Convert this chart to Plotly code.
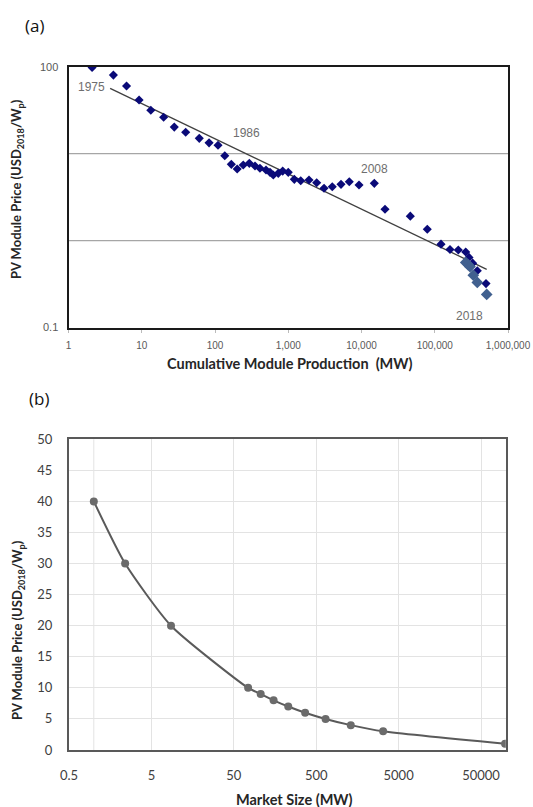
import math
import plotly.graph_objects as go

W, H = 533, 807

# ---------- Panel (a) data ----------
cum_mw = [2.1, 4.1, 6.2, 9.2, 13.3, 19.9, 27.8, 39.8, 61, 83, 110, 136, 167, 201,
          243, 294, 352, 411, 497, 564, 625, 731, 840, 1000, 1210, 1480, 1920, 2445,
          3080, 3990, 5250, 6810, 9250, 14960, 20940, 46400, 79100, 121700, 161500,
          209700, 264700, 293600, 329600, 381000, 501000]
price_a = [98, 80, 60, 41.4, 31.5, 26.2, 20.2, 17.6, 15.0, 13.3, 12.5, 9.46, 7.53, 6.65,
           7.39, 7.73, 7.2, 6.78, 6.48, 6.09, 5.67, 5.93, 6.3, 6.09, 5.06, 4.88, 4.97, 4.63,
           3.99, 4.16, 4.43, 4.75, 4.35, 4.55, 2.29, 1.91, 1.35, 0.91, 0.79,
           0.78, 0.74, 0.64, 0.55, 0.45, 0.32]
recent_mw = [264700, 285000, 303000, 336000, 381000, 512000]
recent_price = [0.56, 0.53, 0.50, 0.40, 0.33, 0.24]
trend_mw = [3.7, 512000]
trend_price = [56.4, 0.467]
year_labels = ["1975", "1986", "2008", "2018"]
year_x = [2.07, 265, 14960, 293600]
year_y = [58.9, 17.3, 6.65, 0.136]
grid_a_y = [1, 10]
xa_ticks = [1, 10, 100, 1000, 10000, 100000, 1000000]
xa_text = ["1", "10", "100", "1,000", "10,000", "100,000", "1,000,000"]
ya_ticks = [0.1, 100]
ya_text = ["0.1", "100"]

# ---------- Panel (b) data ----------
market_mw = [1, 2.4, 8.65, 74.6, 106, 152, 229, 367, 650, 1315, 3245, 98000]
price_b = [40, 30, 20, 10, 9, 8, 7, 6, 5, 4, 3, 1]
xb_ticks = [0.5, 5, 50, 500, 5000, 50000]
xb_text = ["0.5", "5", "50", "500", "5000", "50000"]
grid_b_x = [1]


def px_x(p):
    return p / W


def px_y(p):
    return 1 - p / H


fig = go.Figure()

# Panel (a)
fig.add_trace(go.Scatter(x=trend_mw, y=trend_price, mode="lines",
                         line=dict(color="#404040", width=1.3),
                         xaxis="x", yaxis="y", showlegend=False, hoverinfo="skip"))
fig.add_trace(go.Scatter(x=cum_mw, y=price_a, mode="markers",
                         marker=dict(symbol="diamond", size=7, color="#0a0a78"),
                         xaxis="x", yaxis="y", showlegend=False))
fig.add_trace(go.Scatter(x=recent_mw, y=recent_price, mode="markers",
                         marker=dict(symbol="diamond", size=9, color="#41608f"),
                         xaxis="x", yaxis="y", showlegend=False))

# Panel (b)
fig.add_trace(go.Scatter(x=market_mw, y=price_b, mode="lines+markers",
                         line=dict(color="#5a5a5a", width=2, shape="spline", smoothing=0.6),
                         marker=dict(symbol="circle", size=8, color="#6b6b6b"),
                         xaxis="x2", yaxis="y2", showlegend=False))

shapes = []
for g in grid_a_y:
    shapes.append(dict(type="line", xref="x domain", yref="y", x0=0, x1=1, y0=g, y1=g,
                       line=dict(color="#a6a6a6", width=1.2), layer="below"))
for g in grid_b_x:
    shapes.append(dict(type="line", xref="x2", yref="y2 domain", x0=g, x1=g, y0=0, y1=1,
                       line=dict(color="#e3e3e3", width=1), layer="below"))

annotations = []
for t, x, y in zip(year_labels, year_x, year_y):
    annotations.append(dict(text=t, x=math.log10(x), y=math.log10(y), xref="x", yref="y",
                            showarrow=False, xanchor="center", yanchor="middle",
                            font=dict(family="Liberation Sans, Arial", size=12, color="#6e6e6e")))

ytitle_font = dict(family="Lato", size=13, color="#262626")
xtitle_font = dict(family="Lato", size=14.5, color="#262626")
annotations += [
    dict(text="(a)", x=px_x(34), y=px_y(25), xref="paper", yref="paper", showarrow=False,
         font=dict(family="Open Sans", size=17, color="#111"), xanchor="center", yanchor="middle"),
    dict(text="(b)", x=px_x(39), y=px_y(398), xref="paper", yref="paper", showarrow=False,
         font=dict(family="Open Sans", size=17, color="#111"), xanchor="center", yanchor="middle"),
    dict(text="<b>PV Module Price (USD<sub>2018</sub>/W<sub>p</sub>)</b>", x=px_x(17), y=px_y(189),
         xref="paper", yref="paper", showarrow=False, textangle=-90,
         font=ytitle_font, xanchor="center", yanchor="middle"),
    dict(text="<b>Cumulative Module Production  (MW)</b>", x=px_x(290), y=px_y(363),
         xref="paper", yref="paper", showarrow=False,
         font=xtitle_font, xanchor="center", yanchor="middle"),
    dict(text="<b>PV Module Price (USD<sub>2018</sub>/W<sub>p</sub>)</b>", x=px_x(18), y=px_y(630),
         xref="paper", yref="paper", showarrow=False, textangle=-90,
         font=ytitle_font, xanchor="center", yanchor="middle"),
    dict(text="<b>Market Size (MW)</b>", x=px_x(294), y=px_y(799),
         xref="paper", yref="paper", showarrow=False,
         font=xtitle_font, xanchor="center", yanchor="middle"),
]

fig.update_layout(
    width=W, height=H, autosize=False,
    margin=dict(l=0, r=0, t=0, b=0, autoexpand=False),
    paper_bgcolor="white", plot_bgcolor="white",
    annotations=annotations, shapes=shapes,
    xaxis=dict(type="log", range=[0, 6], domain=[px_x(68.5), px_x(508)], anchor="y",
               tickvals=xa_ticks, ticktext=xa_text, showgrid=False,
               showline=True, linecolor="#1a1a1a", linewidth=2, mirror=True,
               ticks="outside", ticklen=3, tickcolor="#bbbbbb", ticklabelstandoff=4,
               tickfont=dict(family="Liberation Sans, Arial", size=10, color="#595959"),
               zeroline=False, automargin=False),
    yaxis=dict(type="log", range=[-1, 2], domain=[px_y(327.5), px_y(66.7)], anchor="x",
               tickvals=ya_ticks, ticktext=ya_text, showgrid=False,
               showline=True, linecolor="#1a1a1a", linewidth=2, mirror=True,
               ticks="", ticklabelstandoff=6,
               tickfont=dict(family="Liberation Sans, Arial", size=11, color="#595959"),
               zeroline=False, automargin=False),
    xaxis2=dict(type="log", range=[math.log10(0.5), 5], domain=[px_x(69), px_x(505.8)], anchor="y2",
                tickvals=xb_ticks, ticktext=xb_text, showgrid=True, gridcolor="#e3e3e3",
                showline=True, linecolor="#595959", linewidth=2, mirror=True,
                ticks="", ticklabelstandoff=12,
                tickfont=dict(family="Lato", size=13, color="#404040"),
                zeroline=False, automargin=False),
    yaxis2=dict(range=[0, 50], domain=[px_y(750), px_y(439.3)], anchor="x2",
                dtick=5, showgrid=True, gridcolor="#e3e3e3",
                showline=True, linecolor="#595959", linewidth=2, mirror=True,
                ticks="", ticklabelstandoff=12,
                tickfont=dict(family="Lato", size=13, color="#404040"),
                zeroline=False, automargin=False),
)

fig.write_html("out.html", config={"displayModeBar": False},
               post_script="document.body.style.margin='0';document.body.style.overflow='hidden';")
